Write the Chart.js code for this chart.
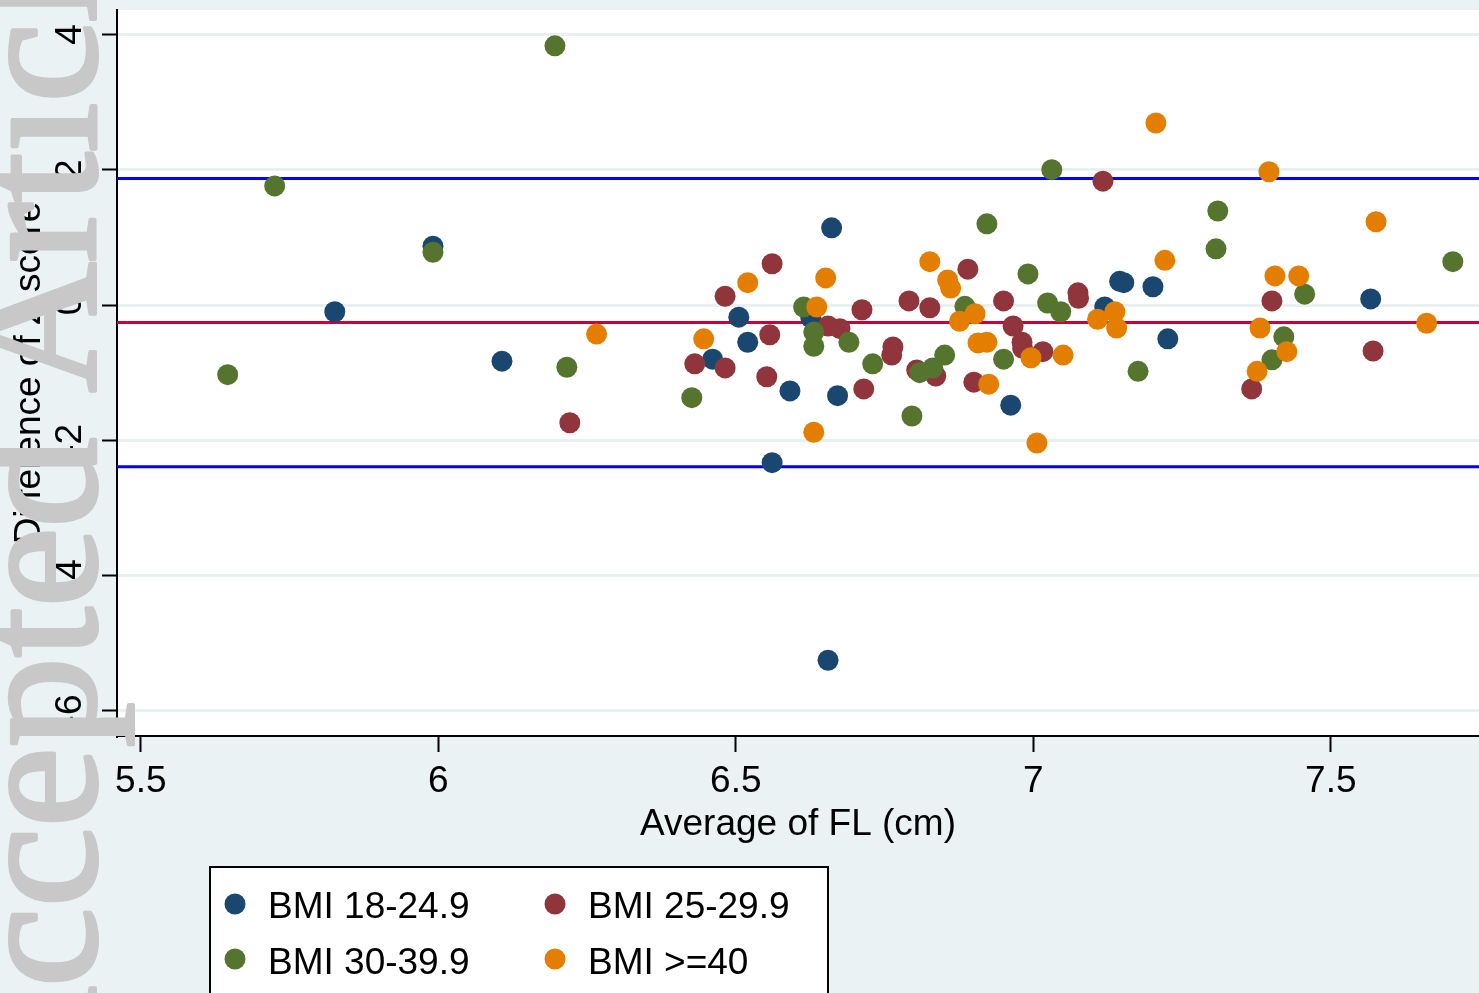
<!DOCTYPE html>
<html>
<head>
<meta charset="utf-8">
<script src="https://cdn.jsdelivr.net/npm/chart.js@4.4.1/dist/chart.umd.min.js"></script>
<style>
  html, body { margin: 0; padding: 0; background: #eaf2f3; overflow: hidden; }
  canvas { display: block; }
</style>
</head>
<body>
<canvas id="chart" width="1479" height="993"></canvas>
<script>
// groups, in Stata legend order
const groupLabels = ['BMI 18-24.9', 'BMI 25-29.9', 'BMI 30-39.9', 'BMI >=40'];
const groupColors = ['#1a476f', '#90353b', '#55752f', '#e37e00'];

// BMI 18-24.9
const bmi1X = [5.826, 5.991, 6.107, 6.505, 6.461, 6.520, 6.591, 6.661, 6.671, 6.561, 6.655, 6.962, 7.145, 7.152, 7.120, 7.201, 7.226, 7.567, 6.626];
const bmi1Y = [-0.10, 0.87, -0.83, -0.18, -0.80, -0.55, -1.27, 1.14, -1.34, -2.33, -5.25, -1.48, 0.35, 0.33, -0.03, 0.27, -0.50, 0.09, -0.19];

// BMI 25-29.9
const bmi2X = [6.221, 6.561, 6.482, 6.557, 6.431, 6.482, 6.552, 6.655, 6.675, 6.712, 6.715, 6.764, 6.762, 6.890, 6.791, 6.826, 6.950, 7.075, 7.076, 7.117, 6.966, 6.981, 6.982, 7.016, 6.804, 6.836, 6.900, 7.401, 7.367, 7.571];
const bmi2Y = [-1.74, 0.61, 0.13, -0.44, -0.87, -0.93, -1.06, -0.31, -0.35, -0.07, -1.24, -0.62, -0.74, 0.53, 0.06, -0.04, 0.06, 0.18, 0.10, 1.83, -0.31, -0.55, -0.64, -0.69, -0.96, -1.05, -1.14, 0.06, -1.24, -0.68];

// BMI 30-39.9
const bmi3X = [5.646, 5.725, 5.991, 6.196, 6.216, 6.426, 6.614, 6.631, 6.631, 6.690, 6.730, 7.031, 6.922, 6.991, 6.885, 7.024, 7.046, 6.851, 6.831, 6.809, 6.950, 7.176, 6.796, 7.310, 7.307, 7.456, 7.421, 7.401, 7.705];
const bmi3Y = [-1.03, 1.76, 0.78, 3.83, -0.92, -1.37, -0.03, -0.40, -0.61, -0.55, -0.87, 2.00, 1.20, 0.46, -0.02, 0.03, -0.10, -0.74, -0.93, -1.00, -0.80, -0.98, -1.64, 1.39, 0.83, 0.16, -0.47, -0.81, 0.64];

// BMI >=40
const bmi4X = [6.266, 6.520, 6.446, 6.651, 6.636, 6.631, 6.826, 6.856, 6.861, 6.876, 6.902, 6.907, 6.922, 6.925, 6.996, 7.050, 7.006, 7.221, 7.108, 7.137, 7.140, 7.206, 7.396, 7.576, 7.406, 7.446, 7.381, 7.426, 7.376, 7.661];
const bmi4Y = [-0.43, 0.33, -0.50, 0.40, -0.03, -1.88, 0.64, 0.37, 0.25, -0.24, -0.13, -0.56, -0.55, -1.17, -0.78, -0.74, -2.04, 0.66, -0.21, -0.10, -0.34, 2.69, 1.97, 1.23, 0.43, 0.43, -0.34, -0.69, -0.98, -0.27];

// mean difference and limits of agreement
const meanDiff = -0.26;
const limits = [-2.39, 1.87];

// axes
const xRange = [5.46, 7.749];
const yRange = [-6.37, 4.36];
const xTicks = [5.5, 6, 6.5, 7, 7.5];
const yTicks = [-6, -4, -2, 0, 2, 4];

const font = '"Liberation Sans", Arial, Helvetica, sans-serif';
Chart.defaults.font.family = font;
Chart.defaults.color = '#000';

const groupsX = [bmi1X, bmi2X, bmi3X, bmi4X];
const groupsY = [bmi1Y, bmi2Y, bmi3Y, bmi4Y];

const pointSets = groupLabels.map((label, i) => ({
    type: 'scatter',
    label: label,
    data: groupsX[i].map((x, j) => ({ x: x, y: groupsY[i][j] })),
    backgroundColor: groupColors[i],
    borderColor: groupColors[i],
    borderWidth: 0,
    pointRadius: 10.5,
    pointHoverRadius: 10.5,
    order: 4 - i
}));

function hline(value, color) {
    return {
        type: 'line',
        label: '',
        data: [{ x: xRange[0], y: value }, { x: xRange[1], y: value }],
        borderColor: color,
        borderWidth: 3,
        pointRadius: 0,
        showLine: true,
        fill: false,
        order: 10
    };
}

const lineSets = [
    hline(limits[1], '#0000ff'),
    hline(meanDiff, '#cc0033'),
    hline(limits[0], '#0000ff')
];

const stataPlugin = {
    id: 'stata',
    beforeDraw(chart) {
        const { ctx, chartArea: a } = chart;
        ctx.save();
        ctx.fillStyle = '#eaf2f3';
        ctx.fillRect(0, 0, chart.width, chart.height);
        ctx.fillStyle = '#ffffff';
        ctx.fillRect(a.left, a.top, a.right - a.left, a.bottom - a.top);
        ctx.restore();
    },
    afterDraw(chart) {
        const ctx = chart.ctx;
        const ys = chart.scales.y;
        ctx.save();

        // vertical y tick labels, Stata style
        ctx.fillStyle = '#000';
        ctx.font = '37px ' + font;
        ctx.textAlign = 'center';
        ctx.textBaseline = 'middle';
        yTicks.forEach(v => {
            ctx.save();
            ctx.translate(71, ys.getPixelForValue(v));
            ctx.rotate(-Math.PI / 2);
            ctx.fillText(String(v), 0, 0);
            ctx.restore();
        });

        // legend box, 2 columns
        ctx.fillStyle = '#fff';
        ctx.fillRect(210, 867, 618, 140);
        ctx.strokeStyle = '#000';
        ctx.lineWidth = 2;
        ctx.strokeRect(210, 867, 618, 140);
        ctx.textAlign = 'left';
        ctx.textBaseline = 'alphabetic';
        chart.data.datasets.filter(d => d.type === 'scatter').forEach((d, i) => {
            const col = i % 2, row = Math.floor(i / 2);
            ctx.fillStyle = d.backgroundColor;
            ctx.beginPath();
            ctx.arc(235 + col * 320, 904 + row * 55, 10.5, 0, Math.PI * 2);
            ctx.fill();
            ctx.fillStyle = '#000';
            ctx.fillText(d.label, 268 + col * 320, 918 + row * 56);
        });

        // journal watermark, a bit heavier than plain Times
        ctx.fillStyle = '#c8c8c8';
        ctx.strokeStyle = '#c8c8c8';
        ctx.lineWidth = 4;
        ctx.lineJoin = 'round';
        ctx.font = '180px "Liberation Serif", "Times New Roman", serif';
        ctx.translate(95, 1117);
        ctx.rotate(-Math.PI / 2);
        ctx.fillText('Accepted Article', 0, 0);
        ctx.strokeText('Accepted Article', 0, 0);

        ctx.restore();
    }
};

new Chart(document.getElementById('chart'), {
    type: 'scatter',
    data: { datasets: pointSets.concat(lineSets) },
    options: {
        responsive: false,
        animation: false,
        events: [],
        // autoPadding would leave room for the big markers at the edges
        layout: { autoPadding: false, padding: { top: 10, left: 0, right: 0, bottom: 0 } },
        plugins: {
            legend: { display: false },
            tooltip: { enabled: false }
        },
        scales: {
            x: {
                type: 'linear',
                min: xRange[0],
                max: xRange[1],
                afterBuildTicks: s => { s.ticks = xTicks.map(v => ({ value: v })); },
                afterFit: s => { s.height = 257; },
                border: { display: true, color: '#000', width: 2 },
                grid: { drawOnChartArea: false, drawTicks: true, tickLength: 16, tickColor: '#000', tickWidth: 2, color: '#000' },
                ticks: { font: { size: 37 }, padding: 8, maxRotation: 0, autoSkip: false, callback: v => String(v) },
                title: { display: true, text: 'Average of FL (cm)', font: { size: 37 }, padding: { top: 0, bottom: 146 } }
            },
            y: {
                type: 'linear',
                min: yRange[0],
                max: yRange[1],
                afterBuildTicks: s => { s.ticks = yTicks.map(v => ({ value: v })); },
                afterFit: s => { s.width = 117; },
                border: { display: true, color: '#000', width: 2 },
                grid: { color: '#e8f0f2', lineWidth: 3, tickColor: '#000', tickWidth: 2, tickLength: 15 },
                ticks: { display: false },
                title: { display: true, text: 'Difference of Z score', font: { size: 37 }, padding: { top: 8, bottom: 0 } }
            }
        }
    },
    plugins: [stataPlugin]
});
</script>
</body>
</html>
